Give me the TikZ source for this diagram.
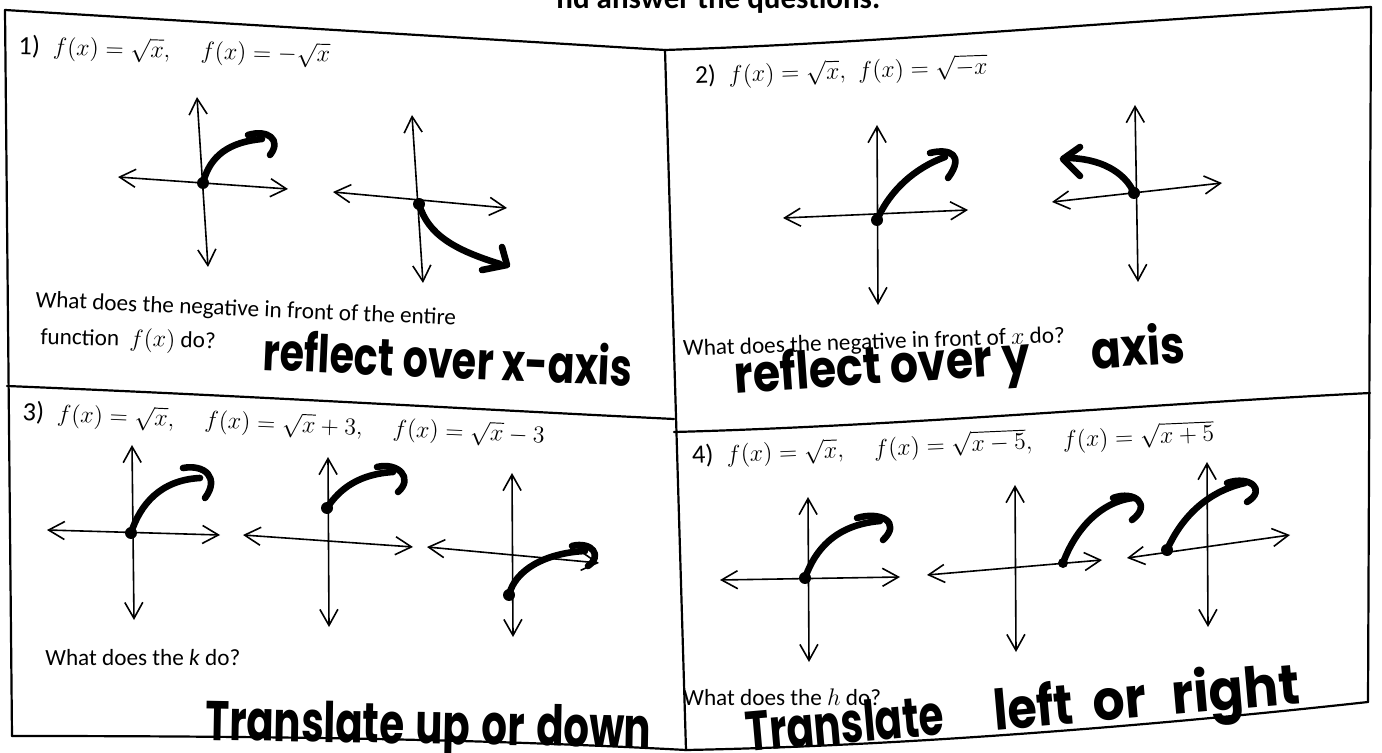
\documentclass[tikz,border=0pt]{standalone}
\usepackage{fontspec}
\usepackage{graphicx}
\usetikzlibrary{arrows.meta}
\newfontfamily\calibri{Carlito}
\newfontfamily\hand{Poppins}
\tikzset{
  box/.style={line width=1.1pt, line cap=round, line join=round},
  axis/.style={line width=0.8pt, {Straight Barb[length=8pt,width=9pt,line width=0.8pt]}-{Straight Barb[length=8pt,width=9pt,line width=0.8pt]}},
  curve/.style={line width=3.3pt, line cap=round, line join=round},
  dot/.style={circle, fill=black, inner sep=0pt, minimum size=6pt},
  lbl/.style={inner sep=0pt, anchor=base west, font=\calibri\fontsize{11.6}{13}\selectfont},
  eq/.style={inner sep=0pt, anchor=base west, font=\fontsize{13.2}{15}\selectfont},
  hw/.style={inner sep=0pt, anchor=base west, font=\hand\bfseries\fontsize{26}{28}\selectfont},
  hwb/.style={inner sep=0pt, anchor=base west, font=\hand\bfseries\fontsize{28}{30}\selectfont},
}
\begin{document}
\begin{tikzpicture}[x=0.5pt,y=-0.5pt]
\useasboundingbox (0,0) rectangle (1382,753);
\fill[white] (0,0) rectangle (1382,753);
% header (clipped at the top edge, as in the scan)
\node[inner sep=0pt, anchor=base west, font=\calibri\bfseries\fontsize{15.5}{17}\selectfont] (hdr) at (556,9) {nd answer the questions.};
% frame
\coordinate (tl) at (5,10);
\coordinate (tm) at (665,50);
\coordinate (tr) at (1371,7);
\coordinate (bl) at (12,736);
\coordinate (bm) at (686,750);
\coordinate (br) at (1368,702);
\coordinate (ml) at (7,386);
\coordinate (mm1) at (674,419);
\coordinate (mm2) at (674,432);
\coordinate (mr) at (1370,393);
\draw[box] (tl) -- (tm);
\draw[box] (tm) .. controls (900,42) and (1100,22) .. (tr);
\draw[box] (tl) -- (bl);
\draw[box] (tm) -- (bm);
\draw[box] (tr) -- (br);
\draw[box] (bl) .. controls (300,736) and (500,740) .. (bm);
\draw[box] (bm) .. controls (900,746) and (1150,726) .. (br);
\draw[box] (ml) .. controls (250,396) and (450,408) .. (mm1);
\draw[box] (mm2) .. controls (900,426) and (1150,404) .. (mr);
% titles
\node[eq, rotate=-1.5] (t1) at (18,54) {{\calibri 1)}\enspace $f(x)=\sqrt{x},\quad f(x)=-\sqrt{x}$};
\node[eq, rotate=2, font=\fontsize{12.8}{15}\selectfont] (t2) at (695,84) {{\calibri 2)}\enspace $f(x)=\sqrt{x},\ f(x)=\sqrt{-x}$};
\node[eq, rotate=-2.5] (t3) at (22,420) {{\calibri 3)}\enspace $f(x)=\sqrt{x},\quad f(x)=\sqrt{x}+3,\quad f(x)=\sqrt{x}-3$};
\node[eq, rotate=2.5] (t4) at (692,464) {{\calibri 4)}\enspace $f(x)=\sqrt{x},\quad f(x)=\sqrt{x-5},\quad f(x)=\sqrt{x+5}$};
% questions
\node[lbl, rotate=-2.5] (q1a) at (35,307) {What does the negative in front of the entire};
\node[lbl, rotate=-1.5] (q1b) at (40,344) {function \ $f(x)$ do?};
\node[lbl, rotate=2] (q2) at (683,356) {What does the negative in front of $x$ do?};
\node[lbl] (q3) at (45,665) {What does the \textit{k} do?};
\node[lbl] (q4) at (683,705) {What does the $h$ do?};
% handwritten answers
\node[hw, rotate=-2.5] (a1) at (262,370) {\scalebox{0.76}[1]{reflect over x-axis}};
\node[hw, rotate=4] (a2) at (735,394) {\scalebox{0.85}[1]{reflect over\hspace{6pt}y\hspace{36pt}axis}};
\node[hwb, rotate=-1] (a3) at (205,740) {\scalebox{0.72}[1]{Translate\hspace{8pt}up\hspace{8pt}or\hspace{8pt}down}};
\node[hwb, rotate=5] (a4) at (747,752) {\scalebox{0.72}[1]{Translate}\hspace{25pt}\scalebox{0.85}[1]{left}\hspace{10pt}\scalebox{0.9}[1]{or}\hspace{13pt}\scalebox{0.92}[1]{right}};
% ---- panel 1 A
\draw[axis] (118,177) -- (288,189);
\draw[axis] (197,97) -- (208,267);
\node[dot] (d1a) at (203,183) {};
\draw[curve] (d1a.center) .. controls (210,155) and (230,142) .. (262,139);
\draw[curve] (248,135) .. controls (268,129) and (282,140) .. (270,155);
% ---- panel 1 B
\draw[axis] (333,192) -- (507,208);
\draw[axis] (412,115) -- (423,283);
\node[dot] (d1b) at (419,204) {};
\draw[curve] (d1b.center) .. controls (428,235) and (455,250) .. (500,264);
\draw[curve] (482,270) -- (507,265) -- (502,247);
% ---- panel 2 A
\draw[axis] (783,218) -- (968,210);
\draw[axis] (877,125) -- (878,305);
\node[dot] (d2a) at (877,220) {};
\draw[curve] (d2a.center) .. controls (890,190) and (915,168) .. (945,157);
\draw[curve] (930,153) .. controls (950,148) and (965,155) .. (948,178);
% ---- panel 2 B
\draw[axis] (1052,202) -- (1222,183);
\draw[axis] (1135,105) -- (1138,282);
\node[dot] (d2b) at (1134,193) {};
\draw[curve] (d2b.center) .. controls (1125,172) and (1100,158) .. (1066,158);
\draw[curve] (1080,147) -- (1063,159) -- (1080,176);
% ---- panel 3 A
\draw[axis] (47,530) -- (220,535);
\draw[axis] (132,445) -- (134,620);
\node[dot] (d3a) at (131,533) {};
\draw[curve] (d3a.center) .. controls (140,505) and (160,480) .. (200,478);
\draw[curve] (183,468) .. controls (205,464) and (220,478) .. (205,498);
% ---- panel 3 B
\draw[axis] (243,535) -- (413,547);
\draw[axis] (328,457) -- (329,627);
\node[dot] (d3b) at (327,508) {};
\draw[curve] (d3b.center) .. controls (340,488) and (360,474) .. (393,472);
\draw[curve] (377,467) .. controls (398,462) and (414,478) .. (398,492);
% ---- panel 3 C
\draw[axis] (427,547) -- (599,563);
\draw[axis] (512,473) -- (513,637);
\node[dot] (d3c) at (509,595) {};
\draw[curve] (d3c.center) .. controls (515,570) and (545,553) .. (585,551);
\draw[curve] (572,546) .. controls (592,541) and (603,556) .. (588,566);
% ---- panel 4 A
\draw[axis] (720,580) -- (900,577);
\draw[axis] (808,497) -- (809,662);
\node[dot] (d4a) at (805,578) {};
\draw[curve] (d4a.center) .. controls (815,550) and (835,525) .. (880,521);
\draw[curve] (857,518) .. controls (880,511) and (902,522) .. (883,540);
% ---- panel 4 B
\draw[axis] (927,575) -- (1102,560);
\draw[axis] (1015,485) -- (1016,652);
\node[dot, minimum size=5pt] (d4b) at (1063,563) {};
\draw[curve] (d4b.center) .. controls (1075,530) and (1100,502) .. (1133,498);
\draw[curve] (1113,498) .. controls (1135,490) and (1152,505) .. (1132,520);
% ---- panel 4 C
\draw[axis] (1127,558) -- (1290,535);
\draw[axis] (1207,462) -- (1208,627);
\node[dot] (d4c) at (1167,550) {};
\draw[curve] (d4c.center) .. controls (1180,520) and (1205,492) .. (1245,483);
\draw[curve] (1227,483) .. controls (1250,475) and (1267,490) .. (1247,502);
\end{tikzpicture}
\end{document}
